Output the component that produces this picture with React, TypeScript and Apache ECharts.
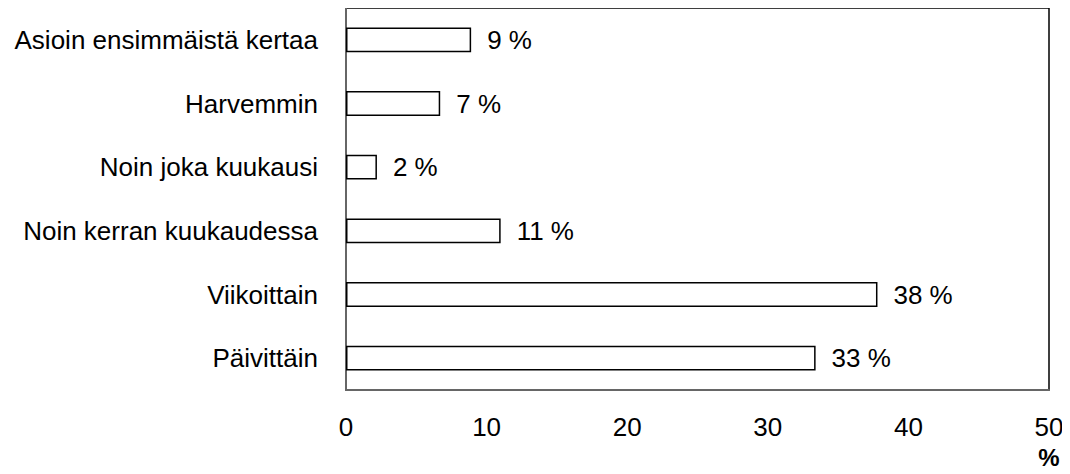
import React, { useEffect, useRef } from "react";
import * as echarts from "echarts";

const categories = [
  "Asioin ensimmäistä kertaa",
  "Harvemmin",
  "Noin joka kuukausi",
  "Noin kerran kuukaudessa",
  "Viikoittain",
  "Päivittäin",
];
const values = [8.9, 6.7, 2.2, 11.0, 37.8, 33.4];
const xTicks = [0, 10, 20, 30, 40, 50];
const axisUnit = "%";

const FONT = "'Liberation Sans', Arial, sans-serif";

export default function App() {
  const ref = useRef<HTMLDivElement>(null);
  useEffect(() => {
    if (!ref.current) return;
    const chart = echarts.init(ref.current, null, { renderer: "svg" });
    chart.setOption({
      animation: false,
      grid: {
        left: 346,
        right: 21,
        top: 8,
        height: 382,
        show: true,
        borderColor: "#000",
        borderWidth: 1.5,
        backgroundColor: "transparent",
        containLabel: false,
        outerBoundsMode: "none",
      },
      graphic: [
        {
          type: "text",
          x: 1049,
          y: 457,
          style: {
            text: axisUnit,
            fill: "#000",
            font: `bold 24px ${FONT}`,
            align: "center",
            verticalAlign: "middle",
          },
        },
      ],
      xAxis: {
        type: "value",
        min: xTicks[0],
        max: xTicks[xTicks.length - 1],
        interval: 10,
        splitLine: { show: false },
        axisTick: { show: false },
        axisLine: { show: true, lineStyle: { color: "#666", width: 2 } },
        axisLabel: { color: "#000", fontSize: 26, fontFamily: FONT, margin: 24 },
      },
      yAxis: {
        type: "category",
        data: categories,
        inverse: true,
        axisTick: { show: false },
        axisLine: { show: true, lineStyle: { color: "#666", width: 2 } },
        axisLabel: { color: "#000", fontSize: 26, fontFamily: FONT, margin: 28 },
      },
      series: [
        {
          type: "bar",
          data: values,
          barCategoryGap: "61%",
          itemStyle: { color: "#fff", borderColor: "#000", borderWidth: 1.5 },
          label: {
            show: true,
            position: "right",
            distance: 16,
            color: "#000",
            fontSize: 26,
            fontFamily: FONT,
            formatter: (p: any) => Math.round(p.value) + " %",
          },
        },
      ],
    });
    return () => chart.dispose();
  }, []);
  return <div ref={ref} style={{ width: 1070, height: 474, margin: -8 }} />;
}
